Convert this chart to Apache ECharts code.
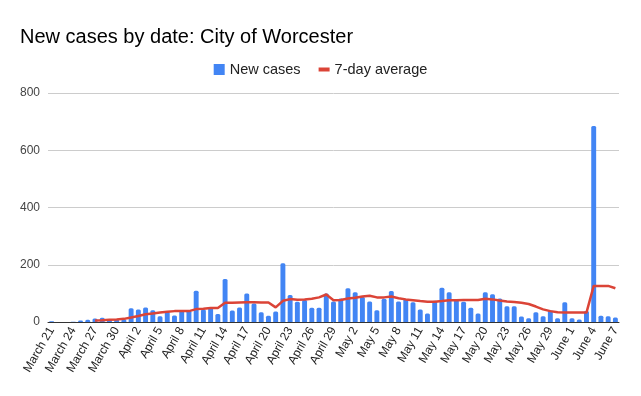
<!DOCTYPE html>
<html>
<head>
<meta charset="utf-8">
<script src="https://cdn.jsdelivr.net/npm/echarts@6/dist/echarts.min.js"></script>
<style>
  html, body { margin: 0; padding: 0; background: #fff; }
  #chart { width: 641px; height: 396px; }
</style>
</head>
<body>
<div id="chart"></div>
<script>
// Dates, March 21 .. June 7
const dates = [
  "March 21", "March 22", "March 23", "March 24", "March 25", "March 26", "March 27",
  "March 28", "March 29", "March 30", "March 31",
  "April 1", "April 2", "April 3", "April 4", "April 5", "April 6", "April 7",
  "April 8", "April 9", "April 10", "April 11", "April 12", "April 13", "April 14",
  "April 15", "April 16", "April 17", "April 18", "April 19", "April 20", "April 21",
  "April 22", "April 23", "April 24", "April 25", "April 26", "April 27", "April 28",
  "April 29", "April 30",
  "May 1", "May 2", "May 3", "May 4", "May 5", "May 6", "May 7",
  "May 8", "May 9", "May 10", "May 11", "May 12", "May 13", "May 14",
  "May 15", "May 16", "May 17", "May 18", "May 19", "May 20", "May 21",
  "May 22", "May 23", "May 24", "May 25", "May 26", "May 27", "May 28",
  "May 29", "May 30", "May 31",
  "June 1", "June 2", "June 3", "June 4", "June 5", "June 6", "June 7"
];

// Daily new cases
const newCases = [
  3, 0, 0, 1, 5, 8, 12, 15, 8, 10, 10,
  48, 44, 51, 41, 20, 37, 23, 40, 39, 109,
  44, 49, 28, 150, 40, 51, 100, 65, 34, 22,
  37, 205, 94, 71, 77, 50, 50, 100, 72, 82,
  118, 104, 87, 72, 41, 81, 108, 72, 80, 69,
  44, 30, 74, 120, 104, 77, 71, 50, 30, 104,
  97, 82, 55, 55, 19, 13, 34, 20, 40, 13, 69,
  13, 9, 38, 685, 22, 20, 16
];

// 7-day average (nothing before March 27)
const avg7 = [
  null, null, null, null, null, null, 5, 6, 8, 9, 11,
  16, 21, 27, 30, 33, 36, 38, 38, 38, 45,
  46, 49, 49, 67, 67, 68, 69, 69, 68, 68,
  51, 74, 80, 78, 79, 81, 86, 96, 76, 77,
  82, 85, 89, 92, 86, 86, 89, 83, 79, 76,
  73, 71, 71, 73, 76, 76, 77, 77, 77, 81,
  79, 75, 72, 70, 67, 63, 54, 44, 38, 34, 33,
  33, 33, 33, 126, 126, 126, 118
];

const FONT = "'Liberation Sans', Arial, sans-serif";

const chart = echarts.init(document.getElementById("chart"));
chart.setOption({
  animation: false,
  title: {
    text: "New cases by date: City of Worcester",
    left: 15,
    top: 22,
    textStyle: { fontFamily: FONT, fontSize: 20, fontWeight: "normal", color: "#000" }
  },
  legend: {
    top: 57,
    left: "center",
    itemWidth: 11,
    itemHeight: 11,
    itemGap: 18,
    textStyle: { fontFamily: FONT, fontSize: 14.5, color: "#222" },
    data: [
      { name: "New cases", icon: "rect" },
      { name: "7-day average", icon: "path://M0 0h11v4H0z" }
    ]
  },
  grid: { left: 48, right: 22, top: 93, bottom: 74 },
  xAxis: {
    type: "category",
    data: dates,
    axisLine: { lineStyle: { color: "#333", width: 1 } },
    axisTick: { show: false },
    axisLabel: {
      interval: 2,
      rotate: 60,
      margin: 6,
      fontFamily: FONT,
      fontSize: 12,
      color: "#222"
    }
  },
  yAxis: {
    type: "value",
    min: 0,
    max: 800,
    interval: 200,
    axisLine: { show: false },
    axisTick: { show: false },
    axisLabel: { fontFamily: FONT, fontSize: 12, color: "#444", margin: 8 },
    splitLine: { lineStyle: { color: "#ccc" } }
  },
  series: [
    {
      name: "New cases",
      type: "bar",
      data: newCases,
      barCategoryGap: "32%",
      itemStyle: { color: "#4285F4", borderRadius: [1.5, 1.5, 0, 0] }
    },
    {
      name: "7-day average",
      type: "line",
      data: avg7,
      symbol: "none",
      z: 3,
      itemStyle: { color: "#DB4437" },
      lineStyle: { color: "#DB4437", width: 2.5 }
    }
  ]
});
</script>
</body>
</html>
